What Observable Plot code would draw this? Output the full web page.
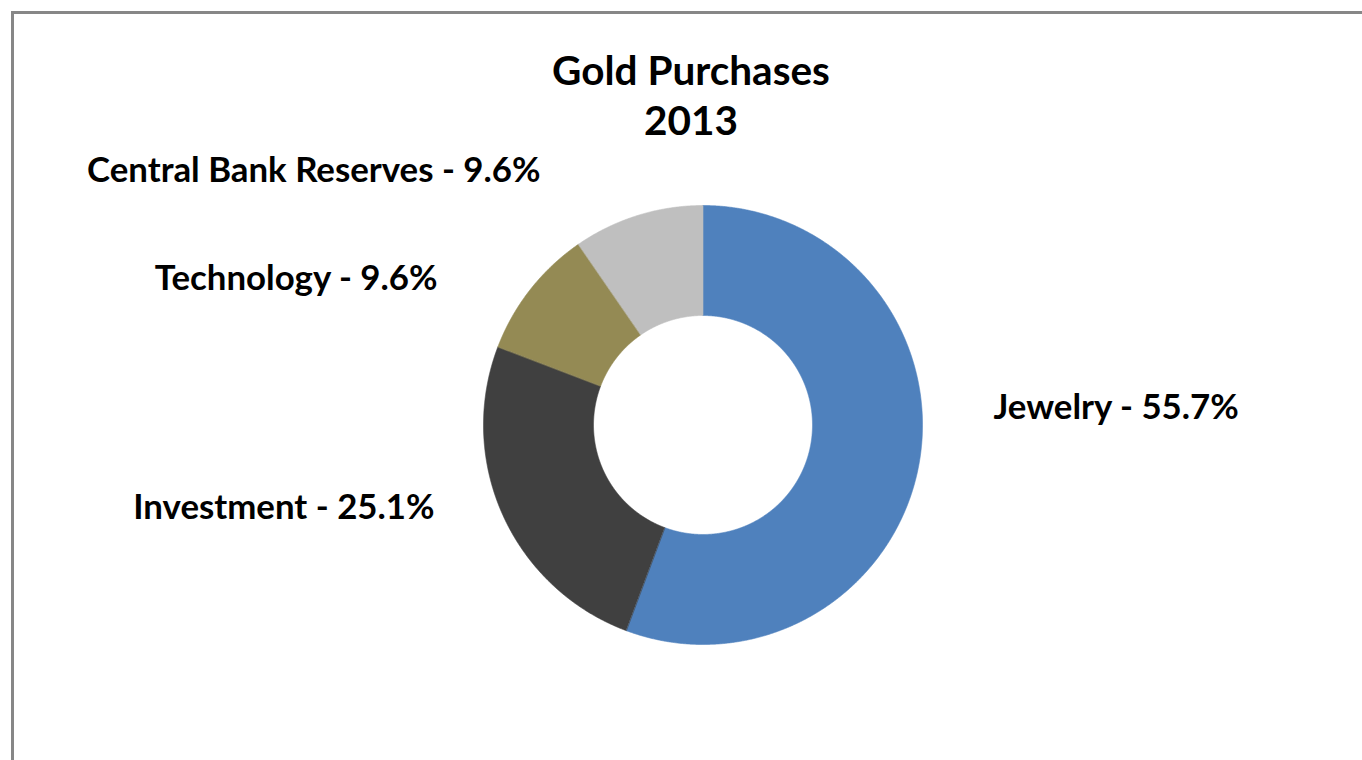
<!DOCTYPE html>
<html><head><meta charset="utf-8">
<script src="https://cdn.jsdelivr.net/npm/d3@7"></script>
<script src="https://cdn.jsdelivr.net/npm/@observablehq/plot@0.6"></script>
<style>
html,body{margin:0;padding:0;background:#fff;overflow:hidden;width:1362px;height:760px;}
#frame{position:absolute;left:11px;top:11px;width:1420px;height:820px;border:3px solid #878787;z-index:2;pointer-events:none;box-sizing:border-box;}
#chart{position:absolute;left:0;top:0;}
</style></head><body>
<div id="chart"></div><div id="frame"></div>
<script>
// ---- data ----
const categories = ["Jewelry", "Investment", "Technology", "Central Bank Reserves"];
const shares = [55.7, 25.1, 9.6, 9.6];
const colors = ["#4F81BD", "#404040", "#948A54", "#BFBFBF"];
const titleLines = ["Gold Purchases", "2013"];

// ---- layout (pixels) ----
const W = 1362, H = 760;
const cx = 702.5, cy = 424.5, rOuter = 219.5, rInner = 109.5;
const labelLayout = [
  {x: 993, y: 418, anchor: "start"},
  {x: 434, y: 518, anchor: "end"},
  {x: 437, y: 289, anchor: "end"},
  {x: 540, y: 181, anchor: "end"}
];
const titleLayout = [{x: 690.5, y: 84}, {x: 690.5, y: 134}];
const FONT = "Lato";

// ---- build ring polygons from the shares ----
const arcs = d3.pie().sort(null).value(d => d)(shares);
const pts = [];
arcs.forEach((a, i) => {
  const n = Math.max(8, Math.ceil((a.endAngle - a.startAngle) / (Math.PI / 720)));
  for (let k = 0; k <= n; k++) {
    const t = a.startAngle + (a.endAngle - a.startAngle) * k / n;
    pts.push({cat: categories[i], x: cx + rOuter * Math.sin(t), y: cy - rOuter * Math.cos(t)});
  }
  for (let k = n; k >= 0; k--) {
    const t = a.startAngle + (a.endAngle - a.startAngle) * k / n;
    pts.push({cat: categories[i], x: cx + rInner * Math.sin(t), y: cy - rInner * Math.cos(t)});
  }
});

const labels = categories.map((c, i) => ({
  text: `${c} - ${shares[i].toFixed(1)}%`,
  x: labelLayout[i].x, y: labelLayout[i].y, anchor: labelLayout[i].anchor
}));
const titles = titleLines.map((t, i) => ({text: t, x: titleLayout[i].x, y: titleLayout[i].y}));

const chart = Plot.plot({
  width: W, height: H,
  marginTop: 0, marginRight: 0, marginBottom: 0, marginLeft: 0,
  x: {domain: [0, W], range: [0, W], axis: null},
  y: {domain: [0, H], range: [0, H], axis: null},
  color: {domain: categories, range: colors},
  style: {fontFamily: FONT, background: "transparent"},
  marks: [
    Plot.line(pts, {x: "x", y: "y", z: "cat", fill: "cat", stroke: "cat", strokeWidth: 0.6, curve: "linear-closed"}),
    Plot.text(labels.filter(d => d.anchor === "start"), {x: "x", y: "y", text: "text", textAnchor: "start", lineAnchor: "bottom", fontSize: 34.8, fontWeight: "bold", fill: "#000"}),
    Plot.text(labels.filter(d => d.anchor === "end"), {x: "x", y: "y", text: "text", textAnchor: "end", lineAnchor: "bottom", fontSize: 34.8, fontWeight: "bold", fill: "#000"}),
    Plot.text(titles, {x: "x", y: "y", text: "text", textAnchor: "middle", lineAnchor: "bottom", fontSize: 40.5, fontWeight: "bold", fill: "#000"})
  ]
});
document.getElementById("chart").appendChild(chart);
</script>
</body></html>
